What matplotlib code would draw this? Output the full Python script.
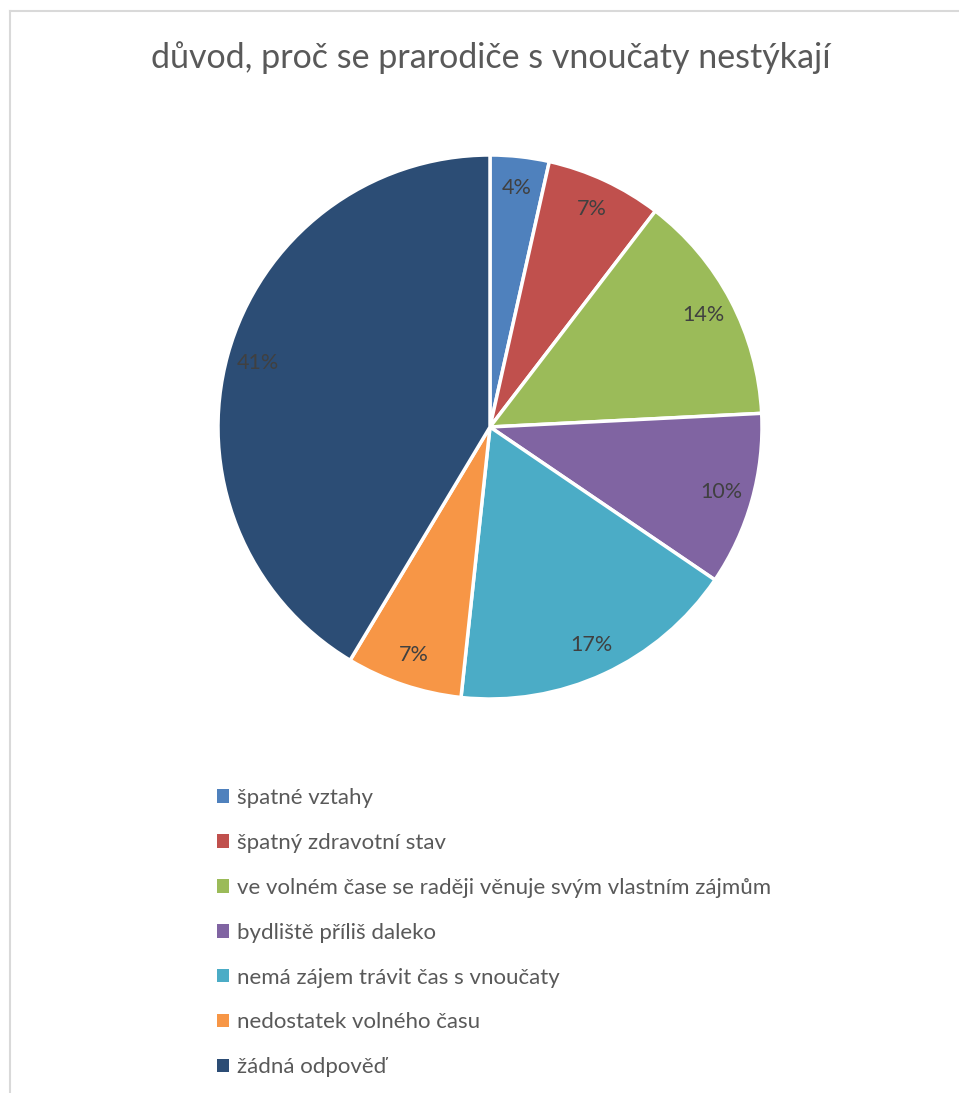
import matplotlib
matplotlib.use("Agg")
import matplotlib.pyplot as plt
from matplotlib.lines import Line2D

plt.rcParams['font.family'] = ['Lato', 'DejaVu Sans']

title = "důvod, proč se prarodiče s vnoučaty nestýkají"
categories = [
    "špatné vztahy",
    "špatný zdravotní stav",
    "ve volném čase se raději věnuje svým vlastním zájmům",
    "bydliště příliš daleko",
    "nemá zájem trávit čas s vnoučaty",
    "nedostatek volného času",
    "žádná odpověď",
]
shares = [3.5, 6.9, 13.8, 10.3, 17.2, 6.9, 41.4]
colors = ["#4F81BD", "#C0504D", "#9BBB59", "#8064A2", "#4BACC6", "#F79646", "#2C4D75"]

W, H = 959, 1093
fig = plt.figure(figsize=(W / 100, H / 100), dpi=100)
fig.patch.set_facecolor("white")

# chart frame (left and top edges visible)
fig.add_artist(Line2D([10 / W, 10 / W], [0, 1 - 11 / H], color="#D9D9D9", lw=1.5))
fig.add_artist(Line2D([10 / W, 1], [1 - 11 / H, 1 - 11 / H], color="#D9D9D9", lw=1.5))

cx, cy, r = 490, 427, 272
ax = fig.add_axes([(cx - r) / W, (H - cy - r) / H, 2 * r / W, 2 * r / H])
wedges, texts, autotexts = ax.pie(
    shares, colors=colors, startangle=90, counterclock=False, radius=1,
    autopct=lambda p: f"{int(p + 0.5 + 1e-6)}%", pctdistance=0.885,
    wedgeprops=dict(edgecolor="white", linewidth=2.5),
    textprops=dict(color="#404040", fontsize=15.5),
)
ax.set_xlim(-1, 1)
ax.set_ylim(-1, 1)
ax.set_aspect("equal")
ax.axis("off")

fig.text(491 / W, 1 - 58 / H, title, ha="center", va="center",
         fontsize=24.5, color="#595959")

leg = fig.legend(
    wedges, categories, loc="upper left",
    bbox_to_anchor=(217 / W, 1 - 788 / H),
    frameon=False, fontsize=16, labelcolor="#595959",
    handlelength=0.55, handleheight=0.55, handletextpad=0.35,
    labelspacing=1.12, borderaxespad=0, borderpad=0,
)
for h in leg.legend_handles:
    h.set_edgecolor("none")

fig.savefig("out.png", dpi=100, facecolor="white")
